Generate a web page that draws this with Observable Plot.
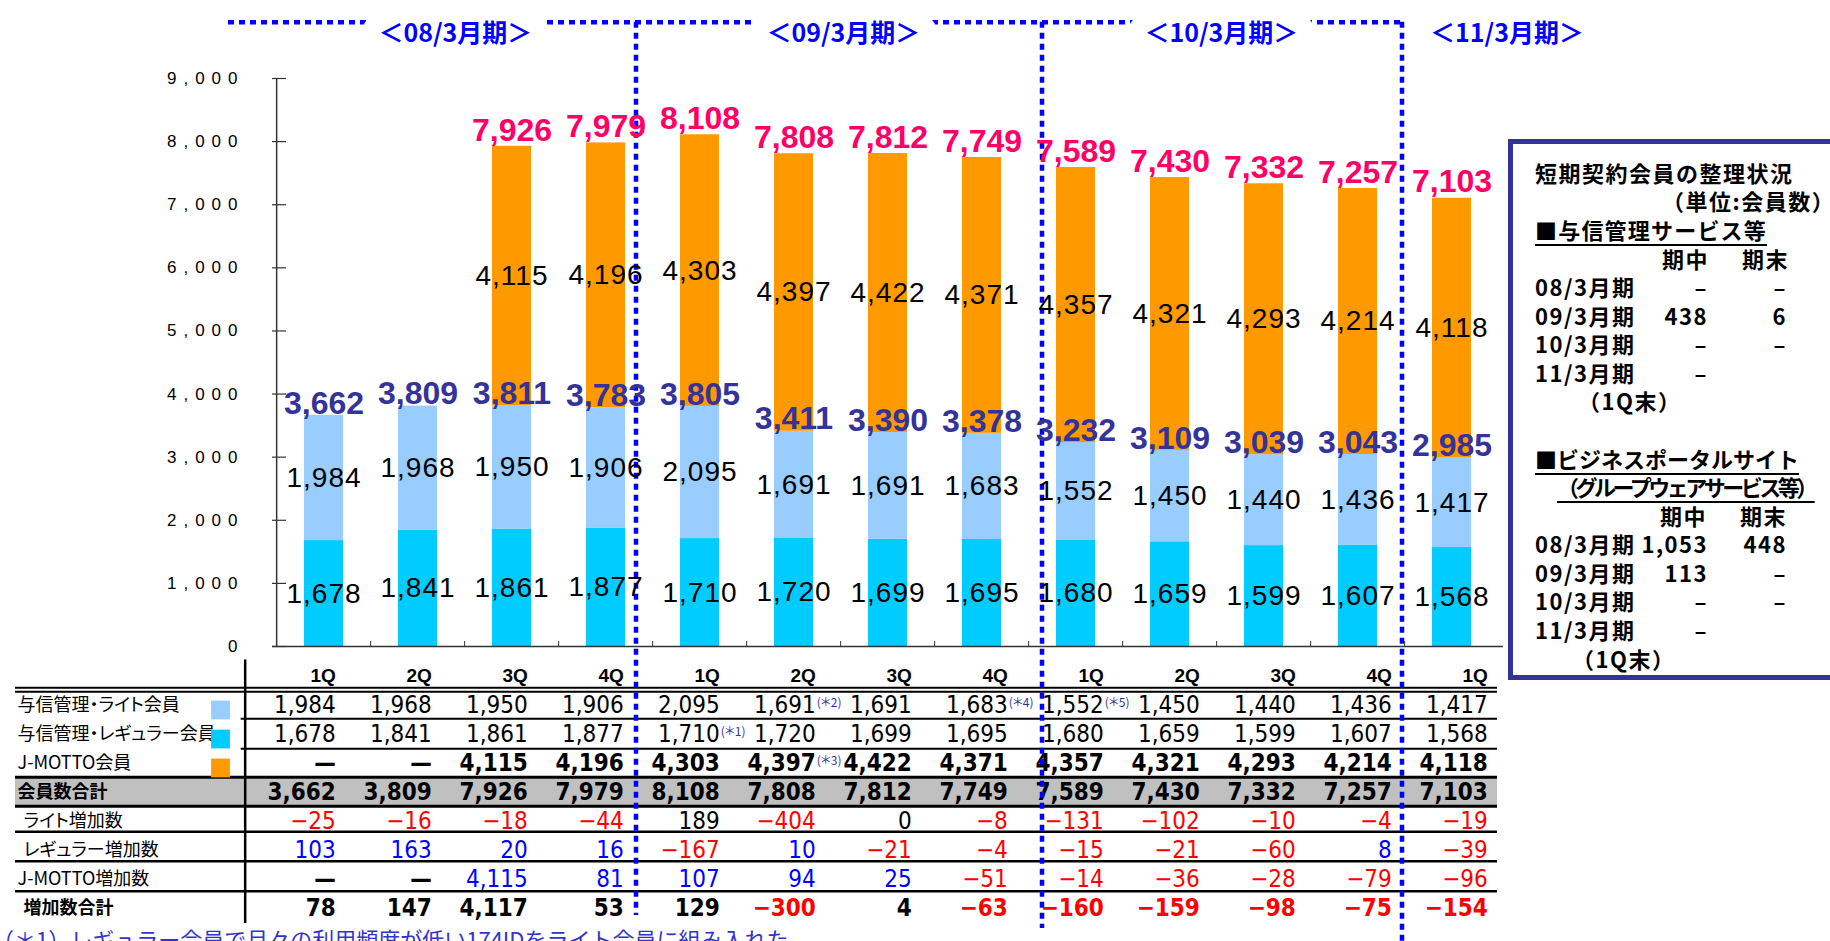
<!DOCTYPE html>
<html lang="ja">
<head>
<meta charset="utf-8">
<script src="https://cdn.jsdelivr.net/npm/d3@7"></script>
<script src="https://cdn.jsdelivr.net/npm/@observablehq/plot@0.6"></script>
<style>
html, body { margin:0; padding:0; background:#fff; overflow:hidden; }
#wrap { position:relative; width:1830px; height:941px; overflow:hidden; background:#fff; }
#tablePlot { position:absolute; left:0; top:646px; }
#tablePlot text { font-feature-settings:"palt"; }
#chartPlot { position:absolute; left:0; top:0; }
#chartPlot g[aria-label="y-axis tick label"] text { letter-spacing:7px; }
#chartPlot g.seg text { letter-spacing:1px; }
#box { position:absolute; left:1508px; top:139px; width:340px; height:531px; border:5px solid #333399; background:#fff;
  font-family:"Noto Sans CJK JP", sans-serif; font-weight:700; font-size:22px; color:#000; letter-spacing:1.5px; }
#box div { position:absolute; line-height:28px; white-space:nowrap; }
#box .u { text-decoration:underline; text-decoration-thickness:2px; text-underline-offset:5px; }
#box .c1 { left:95px; width:100px; text-align:right; }
#box .c2 { left:174px; width:100px; text-align:right; }
#note { position:absolute; left:-8px; top:927px; font-family:"Noto Sans CJK JP", sans-serif; font-size:22px; line-height:22px; color:#3333cc; white-space:nowrap; }
</style>
</head>
<body>
<div id="wrap">
  <div id="tablePlot"></div>
  <div id="chartPlot"></div>
  <div id="box">
    <div style="top:14px;left:22px">短期契約会員の整理状況</div>
    <div style="top:42px;left:149px">（単位:会員数）</div>
    <div class="u" style="top:71px;left:22px;letter-spacing:1.2px">■与信管理サービス等</div>
    <div style="top:100px;left:149px">期中</div><div style="top:100px;left:229px">期末</div>
    <div style="top:128px;left:22px">08/3月期</div><div class="c1" style="top:128px">–</div><div class="c2" style="top:128px">–</div>
    <div style="top:157px;left:22px">09/3月期</div><div class="c1" style="top:157px">438</div><div class="c2" style="top:157px">6</div>
    <div style="top:185px;left:22px">10/3月期</div><div class="c1" style="top:185px">–</div><div class="c2" style="top:185px">–</div>
    <div style="top:214px;left:22px">11/3月期</div><div class="c1" style="top:214px">–</div>
    <div style="top:242px;left:65px">（1Q末）</div>
    <div class="u" style="top:300px;left:22px;letter-spacing:0px">■ビジネスポータルサイト</div>
    <div class="u" style="top:328px;left:44px;letter-spacing:-3.5px">（グループウェアサービス等）</div>
    <div style="top:357px;left:147px">期中</div><div style="top:357px;left:227px">期末</div>
    <div style="top:385px;left:22px">08/3月期</div><div class="c1" style="top:385px">1,053</div><div class="c2" style="top:385px">448</div>
    <div style="top:414px;left:22px">09/3月期</div><div class="c1" style="top:414px">113</div><div class="c2" style="top:414px">–</div>
    <div style="top:442px;left:22px">10/3月期</div><div class="c1" style="top:442px">–</div><div class="c2" style="top:442px">–</div>
    <div style="top:471px;left:22px">11/3月期</div><div class="c1" style="top:471px">–</div>
    <div style="top:500px;left:59px">（1Q末）</div>
  </div>
  <div id="note">（＊1）レギュラー会員で月々の利用頻度が低い174IDをライト会員に組み入れた</div>
</div>
<script>
// ---------- data ----------
const fiscalYears = ["08/3","08/3","08/3","08/3","09/3","09/3","09/3","09/3","10/3","10/3","10/3","10/3","11/3"];
const quarters = ["1Q","2Q","3Q","4Q","1Q","2Q","3Q","4Q","1Q","2Q","3Q","4Q","1Q"];
const regular = [1678,1841,1861,1877,1710,1720,1699,1695,1680,1659,1599,1607,1568];
const light = [1984,1968,1950,1906,2095,1691,1691,1683,1552,1450,1440,1436,1417];
const jmotto = [null,null,4115,4196,4303,4397,4422,4371,4357,4321,4293,4214,4118];
const subtotal = [3662,3809,3811,3783,3805,3411,3390,3378,3232,3109,3039,3043,2985];
const total = [3662,3809,7926,7979,8108,7808,7812,7749,7589,7430,7332,7257,7103];
const lightChange = [-25,-16,-18,-44,189,-404,0,-8,-131,-102,-10,-4,-19];
const regularChange = [103,163,20,16,-167,10,-21,-4,-15,-21,-60,8,-39];
const jmottoChange = [null,null,4115,81,107,94,25,-51,-14,-36,-28,-79,-96];
const totalChange = [78,147,4117,53,129,-300,4,-63,-160,-159,-98,-75,-154];
const seriesNames = ["与信管理・レギュラー会員","与信管理・ライト会員","J-MOTTO会員"];
const rowLabels = ["与信管理・ライト会員","与信管理・レギュラー会員","J-MOTTO会員","会員数合計","ライト増加数","レギュラー増加数","J-MOTTO増加数","増加数合計"];
const yTicks = [0,1000,2000,3000,4000,5000,6000,7000,8000,9000];
const periodLabels = ["＜08/3月期＞","＜09/3月期＞","＜10/3月期＞","＜11/3月期＞"];
const periodAnchors = ["08/3 2Q","09/3 2Q","10/3 2Q","11/3 1Q"];
const dividerAfter = ["08/3 4Q","09/3 4Q","10/3 4Q"];
const noteKeys = ["09/3 2Q","09/3 4Q","10/3 1Q","09/3 1Q","09/3 2Q"];
const noteRows = ["与信管理・ライト会員","与信管理・ライト会員","与信管理・ライト会員","与信管理・レギュラー会員","J-MOTTO会員"];
const noteTexts = ["(＊2)","(＊4)","(＊5)","(＊1)","(＊3)"];

// ---------- styles / layout ----------
const seriesColors = ["#00CCFF","#99CCFF","#FF9900"];
const BLUE = "#0000FF";
const W = 1830, H = 941;
const cLeft = 272, cRight = 1503, cTop = 78, cBottom = 646;
const periodDx = [-10, 2, 4, 55];
const dividerDx = [30, 60, 44];
const dividerBottom = [915, 928, 941];
const topLineY = 21.7, topLineStart = 228;
const LAT = "Liberation Sans, Arial, sans-serif";
const NARROW = "Liberation Sans Narrow, Arial Narrow, DejaVu Sans Condensed, sans-serif";
const JP = "Noto Sans CJK JP, sans-serif";

const keys = quarters.map((q, i) => fiscalYears[i] + " " + q);
const fmt = d3.format(",");
const step = (cRight - cLeft) / keys.length;

const stacked = [];
keys.forEach((k, i) => [regular, light, jmotto].forEach((arr, s) => {
  if (arr[i] != null) stacked.push({key: k, series: seriesNames[s], value: arr[i]});
}));
const subData = keys.map((k, i) => ({key: k, value: subtotal[i]}));
const totData = keys.map((k, i) => ({key: k, value: total[i], has: jmotto[i] != null})).filter(d => d.has);

const dotted = {stroke: BLUE, strokeWidth: 4.5, strokeDasharray: "6,5"};
const chartMarks = [
  Plot.ruleY([yTicks[yTicks.length - 1]], {y: d => d, dy: topLineY - cTop,
    insetLeft: -(cLeft - topLineStart), insetRight: cRight - 1405, ...dotted}),
  ...dividerAfter.map((k, j) => Plot.ruleX([k], {x: d => d, dx: dividerDx[j],
    insetTop: -(cTop - topLineY), insetBottom: -(dividerBottom[j] - cBottom), ...dotted})),
  Plot.barY(stacked, {x: "key", y: "value", fill: "series", order: seriesNames}),
  Plot.ruleY([0], {stroke: "#333", strokeWidth: 1.5}),
  Plot.ruleX([keys[0]], {x: d => d, dx: -step / 2, stroke: "#333", strokeWidth: 1.5}),
  Plot.ruleX(keys.slice(1), {x: d => d, dx: -step / 2, insetTop: (cBottom - cTop) - 5, stroke: "#333"}),
  Plot.tickY(yTicks, {y: d => d, insetRight: (cRight - cLeft) - 14, stroke: "#333", strokeWidth: 1.2}),
  Plot.axisY(yTicks, {tickSize: 0, tickPadding: 28, tickFormat: fmt, fontSize: 17, fontFamily: LAT, color: "#000"}),
  Plot.text(stacked, Plot.stackY({x: "key", y: "value", z: "series", order: seriesNames,
    text: d => fmt(d.value), fontSize: 28, fontFamily: LAT, fill: "#000", className: "seg"})),
  Plot.text(subData, {x: "key", y: "value", text: d => fmt(d.value), dy: -12,
    fontSize: 32, fontWeight: "bold", fontFamily: LAT, fill: "#333399"}),
  Plot.text(totData, {x: "key", y: "value", text: d => fmt(d.value), dy: -16,
    fontSize: 32, fontWeight: "bold", fontFamily: LAT, fill: "#FF0066"}),
  ...periodLabels.map((lab, j) => Plot.text([lab], {x: () => periodAnchors[j], text: d => d,
    frameAnchor: "top", dy: 24 - cTop, dx: (j < 3 ? step / 2 : 0) + periodDx[j],
    fontSize: 25, fontWeight: "bold", fontFamily: JP, fill: BLUE,
    stroke: "white", strokeWidth: 38, strokeLinejoin: "round", paintOrder: "stroke"}))
];

const chart = Plot.plot({
  width: W, height: H,
  marginLeft: cLeft, marginRight: W - cRight, marginTop: cTop, marginBottom: H - cBottom,
  style: {background: "transparent", overflow: "visible"},
  x: {type: "band", domain: keys, paddingInner: 0.59, paddingOuter: 0.295, axis: null, label: null},
  y: {domain: [yTicks[0], yTicks[yTicks.length - 1]], label: null},
  color: {domain: seriesNames, range: seriesColors},
  marks: chartMarks
});
document.getElementById("chartPlot").appendChild(chart);

// ---------- table ----------
const tLeft = 240.7, tRight = 1497, tTop = 659.4, tBottom = 923.1, tOffset = 646;
const tStep = (tRight - tLeft) / keys.length;
const rowKeys = ["head", ...rowLabels];
const rowStep = (tBottom - tTop) / rowKeys.length;
const rowValues = [light, regular, jmotto, total, lightChange, regularChange, jmottoChange, totalChange];
const cells = [];
rowValues.forEach((arr, r) => arr.forEach((v, i) => cells.push({key: keys[i], row: rowLabels[r], r, v})));
const boldRows = new Set([2, 3, 7]);
const isBold = d => boldRows.has(d.r) || d.v == null;
const cellColor = d => d.v == null || d.r < 4 ? "#000" : d.v < 0 ? "#FF0000" : (d.r === 5 || d.r === 6) && d.v > 0 ? BLUE : "#000";
const cellText = d => d.v == null ? "—" : fmt(d.v);
const full = -(tLeft - 15);
const hr = (row, off, w, wide) => Plot.ruleY([row], {y: d => d, dy: -rowStep / 2 + off, stroke: "#000", strokeWidth: w, insetLeft: wide ? full : 0});
const notes = noteKeys.map((k, i) => ({key: k, row: noteRows[i], t: noteTexts[i]}));
const indent = new Set([4, 5, 7]);

const tableMarks = [
  Plot.ruleY([rowLabels[3]], {y: d => d, stroke: "#C0C0C0", strokeWidth: rowStep, insetLeft: full}),
  hr(rowLabels[0], -2.5, 2, true), hr(rowLabels[0], 1.5, 2, true),
  hr(rowLabels[1], -0.7, 2, false), hr(rowLabels[2], 0.4, 2, false),
  hr(rowLabels[3], 0, 3, true), hr(rowLabels[4], 0, 3, true),
  hr(rowLabels[5], -3.5, 2.5, true), hr(rowLabels[6], -3, 2.5, true), hr(rowLabels[7], -2, 2.5, true),
  Plot.ruleX([keys[0]], {x: d => d, dx: -tStep / 2, stroke: "#000", strokeWidth: 2.5}),
  Plot.text(keys, {x: d => d, y: () => "head", text: (d, i) => quarters[i], textAnchor: "end", dx: tStep / 2 - 6,
    fontSize: 19, fontWeight: "bold", fontFamily: LAT, fill: "#000"}),
  ...rowLabels.map((lab, r) => Plot.text([lab], {y: d => d, text: d => d, frameAnchor: "left", textAnchor: "start",
    dx: (indent.has(r) ? 23 : 17) - tLeft, fontSize: 18,
    fontWeight: (r === 3 || r === 7) ? "bold" : "normal", fontFamily: JP, fill: "#000"})),
  Plot.dot(rowLabels.slice(0, 3), {y: d => d, fill: d => d, symbol: "square", r: 10.6, frameAnchor: "left", dx: 220 - tLeft, dy: 5}),
  Plot.text(cells.filter(d => !isBold(d)), {x: "key", y: "row", text: cellText, fill: cellColor,
    textAnchor: "end", dx: tStep / 2 - 6, fontSize: 24, fontFamily: NARROW}),
  Plot.text(cells.filter(isBold), {x: "key", y: "row", text: cellText, fill: cellColor,
    textAnchor: "end", dx: tStep / 2 - 6, fontSize: 24, fontWeight: "bold", fontFamily: NARROW}),
  Plot.text(notes, {x: "key", y: "row", text: "t", textAnchor: "start", dx: tStep / 2 - 5, dy: -2,
    fontSize: 12, fontFamily: JP, fill: "#333399"})
];

const table = Plot.plot({
  width: W, height: H - tOffset,
  marginLeft: tLeft, marginRight: W - tRight, marginTop: tTop - tOffset, marginBottom: H - tBottom,
  style: {background: "transparent", overflow: "visible"},
  x: {type: "band", domain: keys, padding: 0, axis: null, label: null},
  y: {type: "band", domain: rowKeys, padding: 0, axis: null, label: null},
  color: {domain: seriesNames, range: seriesColors},
  marks: tableMarks
});
document.getElementById("tablePlot").appendChild(table);
</script>
</body>
</html>
